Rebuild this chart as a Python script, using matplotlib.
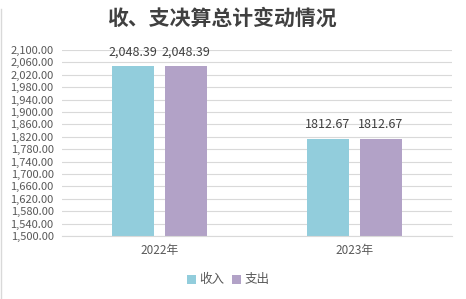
import numpy as np
import matplotlib.pyplot as plt
from matplotlib.lines import Line2D

plt.rcParams['font.family'] = ['Noto Sans CJK SC', 'DejaVu Sans']

years = ["2022年", "2023年"]
income = [2048.39, 1812.67]
expense = [2048.39, 1812.67]
income_labels = ["2,048.39", "1812.67"]
expense_labels = ["2,048.39", "1812.67"]
y_ticks = [1500, 1540, 1580, 1620, 1660, 1700, 1740, 1780, 1820, 1860,
           1900, 1940, 1980, 2020, 2060, 2100]

c_in = "#92CDDC"
c_out = "#B2A2C7"
txt = "#595959"
grid = "#D9D9D9"

fig = plt.figure(figsize=(4.66, 2.99), dpi=100)
ax = fig.add_axes([0.133, 0.2107, 0.837, 0.6221])

x = np.arange(len(years))
w = 0.215
off = 0.136
b1 = ax.bar(x - off, income, w, color=c_in, label="收入", zorder=3)
b2 = ax.bar(x + off, expense, w, color=c_out, label="支出", zorder=3)

for bars, labs in ((b1, income_labels), (b2, expense_labels)):
    for r, lab in zip(bars, labs):
        ax.annotate(lab, (r.get_x() + r.get_width() / 2, r.get_height()),
                    xytext=(0, 5.5), textcoords="offset points",
                    ha="center", va="bottom", fontsize=9, color="#404040",
                    annotation_clip=False)

ax.set_xlim(-0.5, 1.5)
ax.set_ylim(1500, 2100)
ax.set_yticks(y_ticks)
ax.set_yticklabels([f"{v:,.2f}" for v in y_ticks], fontsize=8, color=txt)
ax.set_xticks(x)
ax.set_xticklabels(years, fontsize=8.5, color=txt)
ax.tick_params(axis="both", length=0)
ax.tick_params(axis="y", pad=6)
ax.tick_params(axis="x", pad=6)
ax.grid(axis="y", color=grid, linewidth=0.8, zorder=0)
for s in ("top", "right", "left"):
    ax.spines[s].set_visible(False)
ax.spines["bottom"].set_color(grid)
ax.spines["bottom"].set_zorder(4)

fig.text(222 / 466, 1 - 18 / 299, "收、支决算总计变动情况", ha="center", va="center",
         fontsize=15, fontweight="bold", color="#404040")

fig.legend(handles=[b1, b2], labels=["收入", "支出"], loc="center",
           bbox_to_anchor=(228 / 466, 1 - 280 / 299), ncol=2, frameon=False,
           fontsize=9, handlelength=0.7, handleheight=0.7, handletextpad=0.3,
           columnspacing=0.6, labelcolor=txt)

fig.add_artist(Line2D([0.002, 0.002], [0, 0.97], color=grid, linewidth=1))

fig.savefig("out.png", dpi=100)
